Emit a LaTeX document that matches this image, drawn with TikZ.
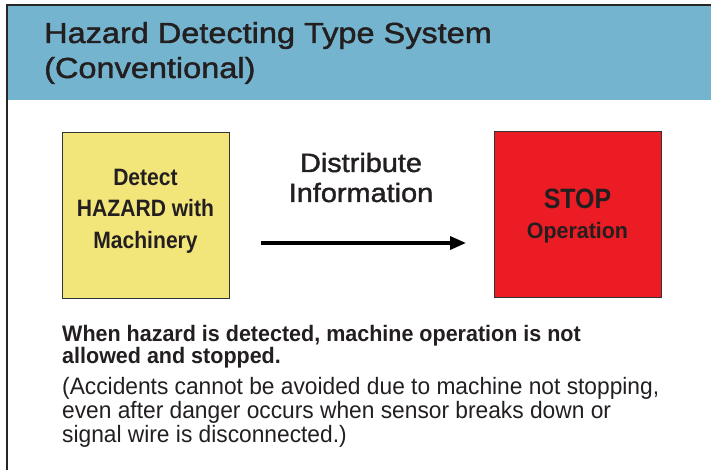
\documentclass[tikz,border=0pt]{standalone}
\usepackage{fontspec}
\setmainfont{Liberation Sans}
\newfontfamily\ftitle{Liberation Sans}[FakeStretch=1.12, FakeBold=1.5]
\newfontfamily\fdist{Liberation Sans}[FakeStretch=1.09, FakeBold=1.5]
\newfontfamily\fnote{Liberation Sans}[FakeStretch=0.96]
\newfontfamily\fboldw{Liberation Sans Bold}[FakeStretch=0.96]
\newfontfamily\fboldn{Liberation Sans Bold}[FakeStretch=0.89]
\usetikzlibrary{arrows.meta}
\definecolor{hdrblue}{HTML}{74B4CE}
\definecolor{boxyellow}{HTML}{F2E67A}
\definecolor{boxred}{HTML}{EC1C24}
\definecolor{txt}{HTML}{231F20}
\tikzset{
  sq/.style={draw=black!80, line width=0.8pt, minimum width=167pt, minimum height=166pt, inner sep=0pt, anchor=north west, text=txt},
  lbl/.style={inner sep=0pt, text=txt, anchor=base},
  lbll/.style={inner sep=0pt, text=txt, anchor=base west},
}
\begin{document}
\begin{tikzpicture}[x=1pt,y=-1pt]
\useasboundingbox (0,0) rectangle (711,470);
\fill[white] (0,0) rectangle (711,470);
% header band
\fill[hdrblue] (7,5) rectangle (711,100);
\draw[black!85, line width=1.6pt] (7,472) -- (7,5) -- (712,5);
% title
\node[lbll, font=\ftitle\fontsize{29}{34}\selectfont] (t1) at (44,43) {Hazard Detecting Type System};
\node[lbll, font=\ftitle\fontsize{29}{34}\selectfont] (t2) at (44,78) {(Conventional)};
% boxes
\node[sq, fill=boxyellow] (det) at (62,132) {};
\node[sq, fill=boxred] (stop) at (494,131) {};
\node[lbl, font=\fboldn\fontsize{23.7}{28}\selectfont] (d1) at (145.5,186) {Detect};
\node[lbl, font=\fboldn\fontsize{23.7}{28}\selectfont] (d2) at (145.5,217) {HAZARD with};
\node[lbl, font=\fboldn\fontsize{23.7}{28}\selectfont] (d3) at (145.5,248) {Machinery};
\node[lbl, font=\fboldn\fontsize{28}{32}\selectfont] (s1) at (577.5,208) {STOP};
\node[lbl, font=\fboldw\fontsize{22.3}{26}\selectfont] (s2) at (577.5,238) {Operation};
% arrow
\coordinate (a0) at (261,243);
\coordinate (a1) at (466,243);
\draw[line width=3.5pt, -{Triangle[length=16pt,width=13pt]}] (a0) -- (a1);
\node[lbl, font=\fdist\fontsize{26.5}{31}\selectfont] (i1) at (361,172) {Distribute};
\node[lbl, font=\fdist\fontsize{26.5}{31}\selectfont] (i2) at (361,202) {Information};
% bottom text
\node[lbll, font=\fboldw\fontsize{22.4}{26}\selectfont] (b1) at (62,341) {When hazard is detected, machine operation is not};
\node[lbll, font=\fboldw\fontsize{22.4}{26}\selectfont] (b2) at (62,363) {allowed and stopped.};
\node[lbll, font=\fnote\fontsize{23.7}{28}\selectfont] (b3) at (62,394) {(Accidents cannot be avoided due to machine not stopping,};
\node[lbll, font=\fnote\fontsize{23.7}{28}\selectfont] (b4) at (62,418) {even after danger occurs when sensor breaks down or};
\node[lbll, font=\fnote\fontsize{23.7}{28}\selectfont] (b5) at (62,442) {signal wire is disconnected.)};
\end{tikzpicture}
\end{document}
